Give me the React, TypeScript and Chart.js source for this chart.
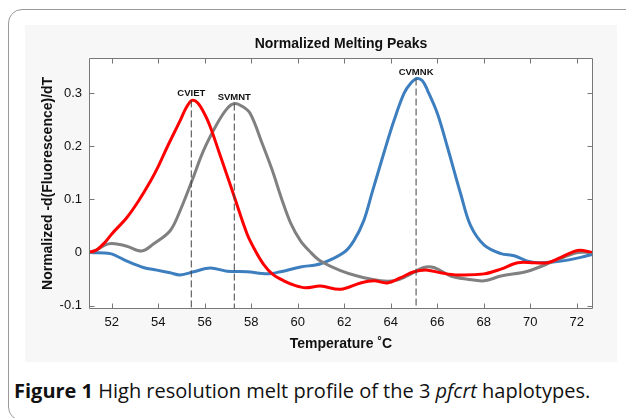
import React, { useEffect, useRef } from "react";
import { Chart, registerables } from "chart.js";

Chart.register(...registerables);

// ---- data ----
const cvietTemp = [51.02, 51.35, 51.7, 52.0, 52.65, 53.15, 53.65, 54.0, 54.37, 54.94, 55.2, 55.45, 55.7, 56.02, 56.24, 56.59, 56.96, 57.27, 57.82, 58.18, 58.53, 58.9, 59.4, 59.9, 60.33, 60.98, 61.84, 62.7, 63.28, 63.85, 64.43, 65.0, 65.58, 66.15, 66.87, 68.02, 68.74, 69.46, 70.17, 70.75, 71.32, 72.04, 72.7];
const cvietVal = [0.0, 0.005, 0.019, 0.035, 0.066, 0.097, 0.133, 0.162, 0.197, 0.248, 0.272, 0.286, 0.281, 0.258, 0.236, 0.192, 0.145, 0.105, 0.035, 0.003, -0.022, -0.04, -0.053, -0.062, -0.066, -0.063, -0.069, -0.057, -0.053, -0.057, -0.047, -0.036, -0.033, -0.038, -0.042, -0.04, -0.031, -0.019, -0.019, -0.019, -0.009, 0.004, 0.0];

const svmntTemp = [51.02, 51.35, 51.7, 52.0, 52.65, 53.29, 53.79, 54.51, 54.94, 55.45, 55.95, 56.53, 56.95, 57.27, 57.6, 57.96, 58.47, 58.9, 59.33, 59.7, 60.12, 60.5, 60.98, 61.84, 62.56, 63.57, 64.14, 64.7, 65.42, 65.86, 66.58, 67.3, 68.02, 68.74, 69.89, 71.03, 72.04, 72.7];
const svmntVal = [0.0, 0.005, 0.014, 0.017, 0.012, 0.003, 0.016, 0.041, 0.079, 0.135, 0.192, 0.242, 0.27, 0.28, 0.275, 0.261, 0.205, 0.155, 0.098, 0.055, 0.022, 0.003, -0.016, -0.034, -0.044, -0.053, -0.053, -0.044, -0.028, -0.028, -0.044, -0.05, -0.053, -0.044, -0.035, -0.016, 0.0, 0.0];

const cvmnkTemp = [51.02, 51.93, 52.65, 53.36, 53.94, 54.51, 54.94, 55.52, 56.24, 56.96, 57.82, 58.68, 59.25, 60.12, 60.98, 61.98, 62.41, 62.84, 63.2, 63.71, 64.14, 64.57, 64.86, 65.12, 65.36, 65.58, 66.01, 66.44, 67.01, 67.44, 68.02, 68.74, 69.31, 69.89, 70.46, 71.32, 72.17, 72.7];
const cvmnkVal = [0.0, -0.002, -0.016, -0.028, -0.033, -0.038, -0.042, -0.036, -0.029, -0.035, -0.036, -0.04, -0.036, -0.027, -0.021, 0.0, 0.022, 0.06, 0.113, 0.188, 0.248, 0.299, 0.318, 0.327, 0.323, 0.305, 0.261, 0.198, 0.11, 0.05, 0.014, -0.002, -0.006, -0.016, -0.019, -0.016, -0.009, -0.003];

const peakLabels = ["CVIET", "SVMNT", "CVMNK"];
const peakTemps = [55.42, 57.27, 65.09];
const peakVals = [0.286, 0.28, 0.327];

const xTickValues = [52, 54, 56, 58, 60, 62, 64, 66, 68, 70, 72];
const yTickValues = [-0.1, 0, 0.1, 0.2, 0.3];
const yTickLabels = ["-0.1", "0", "0.1", "0.2", "0.3"];

const xMin = 51.02;
const xMax = 72.7;
const yMin = -0.106;
const yMax = 0.366;

const chartTitle = "Normalized Melting Peaks";
const xTitle = "Temperature \u02DAC";
const yTitle = "Normalized -d(Fluorescence)/dT";

const FONT = "'Liberation Sans', Arial, Helvetica, sans-serif";
const AXIS_COLOR = "#777777";
const TICK_LEN = 5;

const toPoints = (t: number[], v: number[]) => t.map((x, i) => ({ x, y: v[i] }));

const matlabPlugin = {
  id: "matlabAxes",
  beforeDraw(chart: any) {
    const { ctx, chartArea } = chart;
    const { left, top, right, bottom } = chartArea;
    ctx.save();
    ctx.fillStyle = "#ffffff";
    ctx.fillRect(left, top, right - left, bottom - top);
    ctx.restore();
  },
  afterDatasetsDraw(chart: any) {
    const { ctx, chartArea, scales } = chart;
    const { left, top, right, bottom } = chartArea;
    const xs = scales.x;
    const ys = scales.y;
    ctx.save();
    ctx.strokeStyle = AXIS_COLOR;
    ctx.lineWidth = 1;
    ctx.beginPath();
    const L = Math.round(left) + 0.5;
    const R = Math.round(right) - 0.5;
    const T = Math.round(top) + 0.5;
    const B = Math.round(bottom) - 0.5;
    ctx.rect(L, T, R - L, B - T);
    xTickValues.forEach((v) => {
      const px = Math.round(xs.getPixelForValue(v)) + 0.5;
      ctx.moveTo(px, B);
      ctx.lineTo(px, B - TICK_LEN);
      ctx.moveTo(px, T);
      ctx.lineTo(px, T + TICK_LEN);
    });
    yTickValues.forEach((v) => {
      const py = Math.round(ys.getPixelForValue(v)) + 0.5;
      ctx.moveTo(L, py);
      ctx.lineTo(L + TICK_LEN, py);
      ctx.moveTo(R, py);
      ctx.lineTo(R - TICK_LEN, py);
    });
    ctx.stroke();

    ctx.fillStyle = "#111111";
    ctx.font = `bold 9.5px ${FONT}`;
    ctx.textAlign = "center";
    ctx.textBaseline = "alphabetic";
    peakLabels.forEach((lab, i) => {
      const px = xs.getPixelForValue(peakTemps[i]);
      const py = ys.getPixelForValue(peakVals[i]);
      ctx.fillText(lab, px, py - 4);
    });
    ctx.restore();
  },
};

export default function App() {
  const ref = useRef<HTMLCanvasElement | null>(null);

  useEffect(() => {
    if (!ref.current) return;
    const dashed = peakTemps.map((t, i) => ({
      data: [
        { x: t, y: peakVals[i] },
        { x: t, y: yMin },
      ],
      borderColor: "#444444",
      borderWidth: 1,
      borderDash: [7, 3],
      pointRadius: 0,
      tension: 0,
    }));
    const curve = (t: number[], v: number[], color: string) => ({
      data: toPoints(t, v),
      borderColor: color,
      borderWidth: 3,
      pointRadius: 0,
      tension: 0.35,
    });
    const chart = new Chart(ref.current, {
      type: "line",
      data: {
        datasets: [
          ...dashed,
          curve(cvietTemp, cvietVal, "#ff0000"),
          curve(svmntTemp, svmntVal, "#808080"),
          curve(cvmnkTemp, cvmnkVal, "#3d7ebf"),
        ] as any,
      },
      options: {
        animation: false,
        responsive: false,
        devicePixelRatio: 1,
        layout: { padding: { left: 0, right: 24, top: 0, bottom: 0 } },
        plugins: {
          legend: { display: false },
          tooltip: { enabled: false },
          title: {
            display: true,
            text: chartTitle,
            fullSize: false,
            color: "#111111",
            font: { family: FONT, size: 14, weight: "bold" },
            padding: { top: 11, bottom: 5 },
          },
        },
        scales: {
          x: {
            type: "linear",
            min: xMin,
            max: xMax,
            grid: { display: false, drawTicks: false },
            border: { display: false },
            afterBuildTicks: (s: any) => {
              s.ticks = xTickValues.map((v) => ({ value: v }));
            },
            afterFit: (s: any) => {
              s.height = 53;
            },
            ticks: {
              padding: 6,
              color: "#111111",
              font: { family: FONT, size: 13 },
              maxRotation: 0,
              autoSkip: false,
              callback: (v: any) => String(v),
            },
            title: {
              display: true,
              text: xTitle,
              color: "#111111",
              font: { family: FONT, size: 14, weight: "bold" },
              padding: { top: 0, bottom: 9 },
            },
          },
          y: {
            type: "linear",
            min: yMin,
            max: yMax,
            grid: { display: false, drawTicks: false },
            border: { display: false },
            afterBuildTicks: (s: any) => {
              s.ticks = yTickValues.map((v) => ({ value: v }));
            },
            afterFit: (s: any) => {
              s.width = 64;
            },
            ticks: {
              padding: 7,
              color: "#111111",
              font: { family: FONT, size: 13 },
              autoSkip: false,
              callback: (v: any) => {
                const i = yTickValues.findIndex((t) => Math.abs(t - v) < 1e-9);
                return i >= 0 ? yTickLabels[i] : "";
              },
            },
            title: {
              display: true,
              text: yTitle,
              color: "#111111",
              font: { family: FONT, size: 14, weight: "bold" },
              padding: { top: 15, bottom: 0 },
            },
          },
        },
      } as any,
      plugins: [matlabPlugin],
    });
    return () => chart.destroy();
  }, []);

  return (
    <div style={{ position: "absolute", left: 0, top: 0, width: 626, height: 418, overflow: "hidden", background: "#ffffff" }}>
      <div
        style={{
          position: "absolute",
          left: 8,
          top: 9,
          width: 700,
          height: 410,
          border: "1px solid #9a9a9a",
          borderRadius: 14,
        }}
      />
      <div style={{ position: "absolute", left: 25, top: 25, width: 592, height: 337, background: "#f7f7f7" }}>
        <canvas ref={ref} width={592} height={337} style={{ width: 592, height: 337, display: "block" }} />
      </div>
      <div
        style={{
          position: "absolute",
          left: 14,
          top: 379,
          fontFamily: "'Open Sans', 'Noto Sans', sans-serif",
          fontSize: 20,
          lineHeight: "24px",
          color: "#111111",
          whiteSpace: "nowrap",
        }}
      >
        <b>Figure 1</b> High resolution melt profile of the 3 <i>pfcrt</i> haplotypes.
      </div>
    </div>
  );
}
